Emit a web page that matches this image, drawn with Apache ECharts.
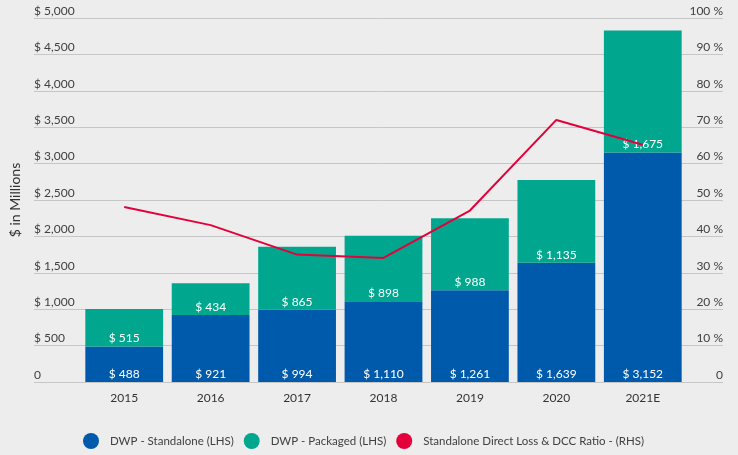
<!DOCTYPE html>
<html>
<head>
<meta charset="utf-8">
<script src="https://cdn.jsdelivr.net/npm/echarts@6/dist/echarts.min.js"></script>
<style>
  html, body { margin: 0; padding: 0; background: #ededed; }
  #chart { width: 738px; height: 455px; }
</style>
</head>
<body>
<div id="chart"></div>
<script>
// values
var years = ['2015', '2016', '2017', '2018', '2019', '2020', '2021E'];
var standalone = [488, 921, 994, 1110, 1261, 1639, 3152];
var packaged = [515, 434, 865, 898, 988, 1135, 1675];
var lossRatio = [48.1, 43.1, 35.0, 34.1, 47.1, 72.0, 65.2];

var fmtMoney = function (v) {
  return '$ ' + Number(v).toLocaleString('en-US');
};

var font = 'Lato';
var chart = echarts.init(document.getElementById('chart'));

var barLabel = {
  show: true,
  position: 'insideBottom',
  distance: 2,
  color: '#fff',
  fontFamily: font,
  fontSize: 12,
  formatter: function (p) { return fmtMoney(p.value); }
};

chart.setOption({
  backgroundColor: '#ededed',
  animation: false,
  textStyle: { fontFamily: font },
  grid: [
    // background grid: gridlines + tick labels
    { left: 32, right: 15, top: 18, bottom: 73 },
    // bars + line
    { left: 81, right: 52, top: 18, bottom: 73 }
  ],
  legend: {
    left: 78,
    top: 428,
    width: 655,
    icon: 'circle',
    itemWidth: 16,
    itemHeight: 16,
    itemGap: 10,
    textStyle: { color: '#404040', fontSize: 11.5, fontFamily: font, padding: [0, 0, 0, 6] },
    data: ['DWP - Standalone (LHS)', 'DWP - Packaged (LHS)', 'Standalone Direct Loss & DCC Ratio - (RHS)']
  },
  xAxis: [
    { gridIndex: 0, type: 'category', data: years, show: false },
    {
      gridIndex: 1, type: 'category', data: years,
      axisLine: { show: false }, axisTick: { show: false },
      axisLabel: { color: '#333', fontSize: 12, fontFamily: font, margin: 10 }
    }
  ],
  yAxis: [
    {
      gridIndex: 0, type: 'value', position: 'left', min: 0, max: 5000, interval: 500,
      name: '$ in Millions', nameLocation: 'middle', nameRotate: 90, nameGap: 12,
      nameTextStyle: { color: '#333', fontSize: 14, fontFamily: font },
      axisLine: { show: false }, axisTick: { show: false },
      axisLabel: {
        inside: true, margin: 0, align: 'left', verticalAlign: 'bottom',
        padding: [0, 0, 1, 0], color: '#404040', fontSize: 12, fontFamily: font,
        formatter: function (v) { return v === 0 ? '0' : fmtMoney(v); }
      },
      splitLine: { lineStyle: { color: '#c6c6c6', width: 1 } }
    },
    {
      gridIndex: 0, type: 'value', position: 'right', min: 0, max: 100, interval: 10,
      axisLine: { show: false }, axisTick: { show: false },
      axisLabel: {
        inside: true, margin: 0, align: 'right', verticalAlign: 'bottom',
        padding: [0, 0, 1, 0], color: '#404040', fontSize: 12, fontFamily: font,
        formatter: function (v) { return v === 0 ? '0' : v + ' %'; }
      },
      splitLine: { show: false }
    },
    { gridIndex: 1, type: 'value', min: 0, max: 5000, show: false },
    { gridIndex: 1, type: 'value', min: 0, max: 100, show: false, position: 'right' }
  ],
  series: [
    {
      name: 'DWP - Standalone (LHS)', type: 'bar', stack: 'dwp',
      xAxisIndex: 1, yAxisIndex: 2, barCategoryGap: '10%',
      itemStyle: { color: '#005aab' }, label: barLabel, data: standalone
    },
    {
      name: 'DWP - Packaged (LHS)', type: 'bar', stack: 'dwp',
      xAxisIndex: 1, yAxisIndex: 2, barCategoryGap: '10%',
      itemStyle: { color: '#00a78e' }, label: barLabel, data: packaged
    },
    {
      name: 'Standalone Direct Loss & DCC Ratio - (RHS)', type: 'line',
      xAxisIndex: 1, yAxisIndex: 3, showSymbol: false, symbol: 'circle',
      itemStyle: { color: '#e4003b' },
      lineStyle: { color: '#e4003b', width: 2 }, data: lossRatio, z: 5
    }
  ]
});
</script>
</body>
</html>
